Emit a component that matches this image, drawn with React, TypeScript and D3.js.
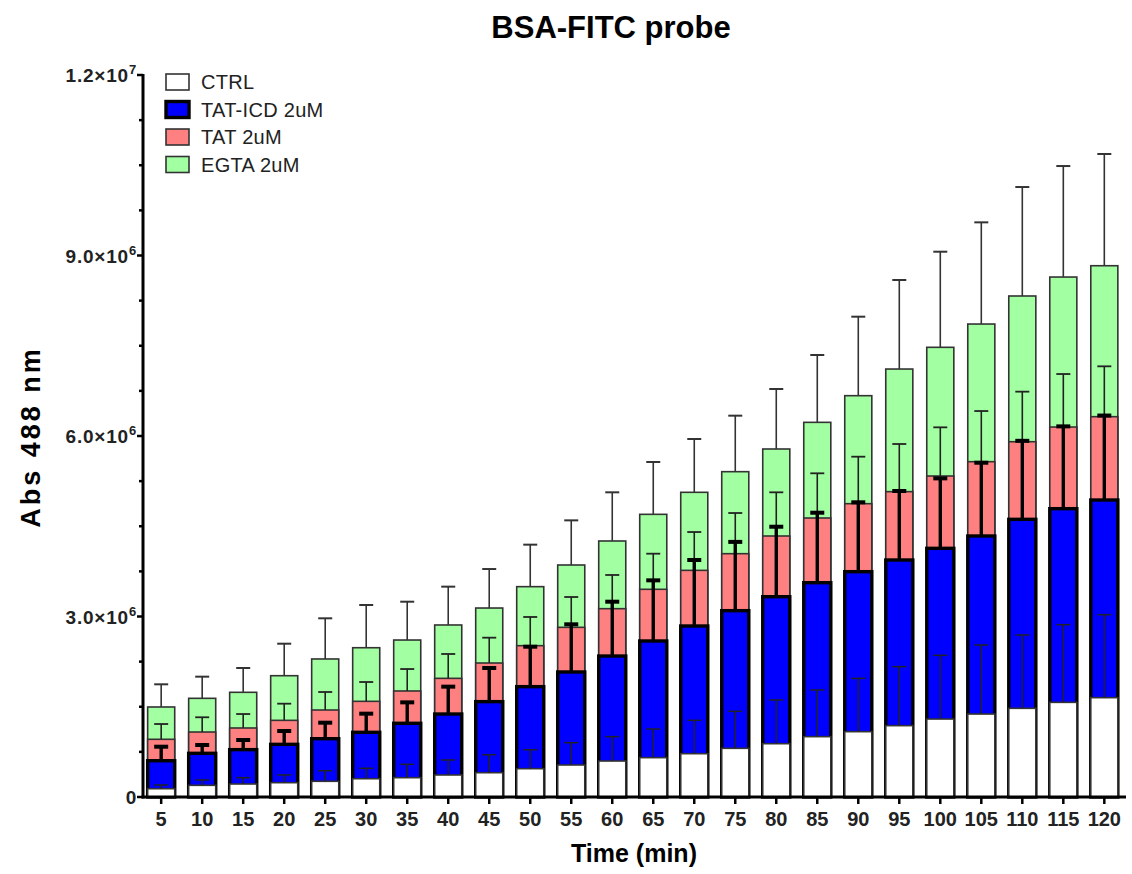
import React from "react";
import * as d3 from "d3";

const times = [5, 10, 15, 20, 25, 30, 35, 40, 45, 50, 55, 60, 65, 70, 75, 80, 85, 90, 95, 100, 105, 110, 115, 120];

// values in units of 1e6
const ctrlMean = [0.138, 0.194, 0.216, 0.238, 0.261, 0.304, 0.321, 0.366, 0.404, 0.471, 0.532, 0.598, 0.654, 0.720, 0.809, 0.886, 1.003, 1.086, 1.186, 1.296, 1.379, 1.474, 1.573, 1.651];
const ctrlErr = [0.062, 0.089, 0.105, 0.128, 0.176, 0.173, 0.222, 0.249, 0.299, 0.315, 0.371, 0.405, 0.476, 0.554, 0.615, 0.726, 0.775, 0.886, 0.980, 1.059, 1.147, 1.218, 1.291, 1.379];

const icdMean = [0.603, 0.726, 0.787, 0.875, 0.969, 1.075, 1.225, 1.379, 1.585, 1.834, 2.078, 2.343, 2.593, 2.842, 3.097, 3.329, 3.562, 3.745, 3.939, 4.133, 4.338, 4.615, 4.792, 4.936];
const icdErr = [0.233, 0.138, 0.160, 0.222, 0.266, 0.310, 0.348, 0.455, 0.559, 0.664, 0.792, 0.903, 1.008, 1.097, 1.143, 1.163, 1.163, 1.153, 1.147, 1.163, 1.218, 1.305, 1.368, 1.404];

const tatMean = [0.959, 1.080, 1.147, 1.274, 1.446, 1.590, 1.762, 1.972, 2.227, 2.515, 2.820, 3.130, 3.452, 3.767, 4.044, 4.338, 4.637, 4.875, 5.075, 5.335, 5.573, 5.905, 6.149, 6.321];
const tatErr = [0.254, 0.245, 0.232, 0.277, 0.299, 0.321, 0.365, 0.405, 0.421, 0.477, 0.504, 0.560, 0.592, 0.637, 0.676, 0.726, 0.743, 0.781, 0.792, 0.809, 0.842, 0.832, 0.881, 0.837];

const egtaMean = [1.496, 1.640, 1.740, 2.016, 2.294, 2.481, 2.609, 2.859, 3.141, 3.496, 3.856, 4.255, 4.698, 5.064, 5.407, 5.784, 6.227, 6.670, 7.113, 7.474, 7.861, 8.327, 8.642, 8.830];
const egtaErr = [0.377, 0.360, 0.404, 0.532, 0.676, 0.710, 0.637, 0.637, 0.648, 0.698, 0.742, 0.809, 0.870, 0.886, 0.931, 0.997, 1.119, 1.313, 1.480, 1.589, 1.690, 1.811, 1.845, 1.857];

const yMajorTicks = [0, 3e6, 6e6, 9e6, 1.2e7];
const yMinorStep = 0.75e6;

const seriesNames = ["CTRL", "TAT-ICD 2uM", "TAT 2uM", "EGTA 2uM"];

const FONT = "'Liberation Sans', Arial, Helvetica, sans-serif";

type Series = {
  name: string;
  mean: number[];
  err: number[];
  fill: string;
  stroke: string;
  strokeWidth: number;
  errColor: string;
  errWidth: number;
  capWidth: number;
};

export default function App() {
  const W = 1132;
  const H = 874;
  const x0 = 143;
  const x1 = 1126;
  const yTop = 75;
  const yBottom = 797;

  const x = d3.scaleBand<number>().domain(times).range([141.5, 1124]).paddingInner(0.34).paddingOuter(0.15);
  const y = d3.scaleLinear().domain([0, 1.2e7]).range([yBottom, yTop]);
  const bw = x.bandwidth();

  const series: Series[] = [
    { name: seriesNames[3], mean: egtaMean, err: egtaErr, fill: "#a2ffa2", stroke: "#333", strokeWidth: 1.6, errColor: "#333", errWidth: 1.6, capWidth: 2 },
    { name: seriesNames[2], mean: tatMean, err: tatErr, fill: "#ff8080", stroke: "#333", strokeWidth: 1.6, errColor: "#222", errWidth: 1.6, capWidth: 1.8 },
    { name: seriesNames[1], mean: icdMean, err: icdErr, fill: "#0000ff", stroke: "#000", strokeWidth: 3.4, errColor: "#000", errWidth: 3.4, capWidth: 4 },
    { name: seriesNames[0], mean: ctrlMean, err: ctrlErr, fill: "#ffffff", stroke: "#333", strokeWidth: 1.6, errColor: "#222", errWidth: 1.5, capWidth: 1.5 },
  ];

  const minorTicks = d3.range(0, 1.2e7 + 1, yMinorStep).filter((v) => !yMajorTicks.includes(v));

  const fmtTick = (v: number) => {
    if (v === 0) return { m: "0", e: "" };
    const e = Math.floor(Math.log10(v));
    const m = v / Math.pow(10, e);
    return { m: m.toFixed(1) + "×10", e: String(e) };
  };

  const legend = [
    { name: seriesNames[0], fill: "#ffffff", stroke: "#333", sw: 1.6 },
    { name: seriesNames[1], fill: "#0000ff", stroke: "#000", sw: 3.4 },
    { name: seriesNames[2], fill: "#ff8080", stroke: "#333", sw: 1.6 },
    { name: seriesNames[3], fill: "#a2ffa2", stroke: "#333", sw: 1.6 },
  ];

  return (
    <svg width={W} height={H} style={{ position: "absolute", left: 0, top: 0, background: "#fff" }} fontFamily={FONT}>
      <rect x={0} y={0} width={W} height={H} fill="#fff" />
      {/* Title */}
      <text x={611} y={38} textAnchor="middle" fontSize={31} fontWeight="bold" fill="#000">
        BSA-FITC probe
      </text>

      {/* Bars */}
      {series.map((s) => (
        <g key={s.name}>
          {times.map((t, i) => {
            const v = s.mean[i] * 1e6;
            const e = s.err[i] * 1e6;
            const cx = (x(t) as number) + bw / 2;
            const yv = y(v);
            const ye = y(v + e);
            return (
              <g key={t}>
                <rect x={x(t)} y={yv} width={bw} height={yBottom - yv} fill={s.fill} stroke={s.stroke} strokeWidth={s.strokeWidth} />
                <line x1={cx} x2={cx} y1={yv} y2={ye} stroke={s.errColor} strokeWidth={s.errWidth} />
                <line x1={cx - 7} x2={cx + 7} y1={ye} y2={ye} stroke={s.errColor} strokeWidth={s.capWidth} />
              </g>
            );
          })}
        </g>
      ))}

      {/* Y axis */}
      <line x1={x0} x2={x0} y1={yTop - 1} y2={yBottom + 1.5} stroke="#000" strokeWidth={3} />
      {yMajorTicks.map((v) => {
        const f = fmtTick(v);
        return (
          <g key={v}>
            <line x1={x0 - 6} x2={x0} y1={y(v)} y2={y(v)} stroke="#000" strokeWidth={2.5} />
            <text x={f.e ? 129 : 137} y={y(v) + 7} textAnchor="end" fontSize={19} fontWeight="bold" fill="#222" letterSpacing={0.8}>
              {f.m}
            </text>
            {f.e && (
              <text x={129} y={y(v) - 1} textAnchor="start" fontSize={13} fontWeight="bold" fill="#222">
                {f.e}
              </text>
            )}
          </g>
        );
      })}
      {minorTicks.map((v) => (
        <line key={v} x1={x0 - 4} x2={x0} y1={y(v)} y2={y(v)} stroke="#000" strokeWidth={2.5} />
      ))}

      {/* X axis */}
      <line x1={x0 - 1.5} x2={x1} y1={yBottom} y2={yBottom} stroke="#000" strokeWidth={3} />
      {times.map((t) => {
        const cx = (x(t) as number) + bw / 2;
        return (
          <g key={t}>
            <line x1={cx} x2={cx} y1={yBottom} y2={yBottom + 7} stroke="#000" strokeWidth={2.5} />
            <text x={cx} y={826} textAnchor="middle" fontSize={20} fontWeight="bold" fill="#222">
              {t}
            </text>
          </g>
        );
      })}

      {/* Axis titles */}
      <text x={634} y={862} textAnchor="middle" fontSize={25} fontWeight="bold" fill="#000">
        Time (min)
      </text>
      <text
        transform={`translate(40,437) rotate(-90)`}
        textAnchor="middle"
        fontSize={27}
        fontWeight="bold"
        letterSpacing={3}
        fill="#000"
      >
        Abs 488 nm
      </text>

      {/* Legend */}
      {legend.map((l, i) => {
        const ly = 74 + i * 27.5;
        return (
          <g key={l.name}>
            <rect x={166} y={ly} width={23} height={16} fill={l.fill} stroke={l.stroke} strokeWidth={l.sw} />
            <text x={201} y={ly + 15} fontSize={20} letterSpacing={0.3} fill="#222">
              {l.name}
            </text>
          </g>
        );
      })}
    </svg>
  );
}
